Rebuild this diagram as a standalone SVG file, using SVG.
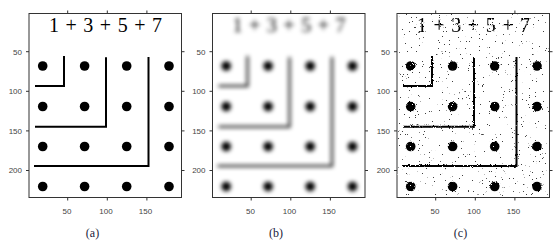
<svg xmlns="http://www.w3.org/2000/svg" xmlns:xlink="http://www.w3.org/1999/xlink" width="557" height="242" viewBox="0 0 557 242">
<style>
.frame{fill:none;stroke:#333;stroke-width:1}
.tick{stroke:#333;stroke-width:1}
.tl{font-size:8px;fill:#444}
.yl{text-anchor:end}
.xl{text-anchor:middle}
.cap{font-size:12px;fill:#1b1b3a;text-anchor:middle}
.title{font-size:20px;fill:#000}
.ln{fill:none;stroke:#000;stroke-width:2}
.dot{fill:#000}
</style>
<defs>
<filter id="blur" x="-20%" y="-20%" width="140%" height="140%">
<feGaussianBlur stdDeviation="2.3"/>
</filter>
<filter id="noisy" x="-5%" y="-5%" width="110%" height="110%">
<feTurbulence type="fractalNoise" baseFrequency="0.9" numOctaves="2" seed="7" result="t"/>
<feDisplacementMap in="SourceGraphic" in2="t" scale="2.5" xChannelSelector="R" yChannelSelector="G"/>
</filter>
<filter id="speckle" x="0" y="0" width="1" height="1">
<feTurbulence type="fractalNoise" baseFrequency="2.7" numOctaves="1" seed="2"/>
<feColorMatrix type="matrix" values="0 0 0 0 0  0 0 0 0 0  0 0 0 0 0  50 0 0 0 -35.3"/>
<feComponentTransfer><feFuncA type="linear" slope="0.75"/></feComponentTransfer>
</filter>
<filter id="salt" x="0" y="0" width="1" height="1">
<feTurbulence type="fractalNoise" baseFrequency="2.9" numOctaves="1" seed="9"/>
<feColorMatrix type="matrix" values="0 0 0 0 1  0 0 0 0 1  0 0 0 0 1  0 50 0 0 -36"/>
</filter>
<g id="axes">
<rect class="frame" x="29" y="13.5" width="152.5" height="184"/>
<path class="tick" d="M67.7,13.5V10.5M107.3,13.5V10.5M146.9,13.5V10.5M67.7,197.5V200.5M107.3,197.5V200.5M146.9,197.5V200.5M29,51.7H26M29,91.3H26M29,130.9H26M29,170.5H26M181.5,51.7H184.5M181.5,91.3H184.5M181.5,130.9H184.5M181.5,170.5H184.5"/>
<text class="tl yl" font-family="'Liberation Sans', Arial, sans-serif" x="22" y="54.5">50</text>
<text class="tl yl" font-family="'Liberation Sans', Arial, sans-serif" x="22" y="94.1">100</text>
<text class="tl yl" font-family="'Liberation Sans', Arial, sans-serif" x="22" y="133.7">150</text>
<text class="tl yl" font-family="'Liberation Sans', Arial, sans-serif" x="22" y="173.3">200</text>
<text class="tl xl" font-family="'Liberation Sans', Arial, sans-serif" x="67" y="214">50</text>
<text class="tl xl" font-family="'Liberation Sans', Arial, sans-serif" x="106" y="214">100</text>
<text class="tl xl" font-family="'Liberation Sans', Arial, sans-serif" x="145.5" y="214">150</text>
</g>
<g id="content">
<text class="title" font-family="'Liberation Serif', 'Times New Roman', serif" x="49" y="32" textLength="113" lengthAdjust="spacing">1 + 3 + 5 + 7</text>
<circle class="dot" cx="42.7" cy="66" r="4.8"/>
<circle class="dot" cx="84.6" cy="66" r="4.8"/>
<circle class="dot" cx="126.7" cy="66" r="4.8"/>
<circle class="dot" cx="169" cy="66" r="4.8"/>
<circle class="dot" cx="42.7" cy="106.5" r="4.8"/>
<circle class="dot" cx="84.6" cy="106.5" r="4.8"/>
<circle class="dot" cx="126.7" cy="106.5" r="4.8"/>
<circle class="dot" cx="169" cy="106.5" r="4.8"/>
<circle class="dot" cx="42.7" cy="146.5" r="4.8"/>
<circle class="dot" cx="84.6" cy="146.5" r="4.8"/>
<circle class="dot" cx="126.7" cy="146.5" r="4.8"/>
<circle class="dot" cx="169" cy="146.5" r="4.8"/>
<circle class="dot" cx="42.7" cy="186.5" r="4.8"/>
<circle class="dot" cx="84.6" cy="186.5" r="4.8"/>
<circle class="dot" cx="126.7" cy="186.5" r="4.8"/>
<circle class="dot" cx="169" cy="186.5" r="4.8"/>
<path class="ln" d="M35,86H64V56"/>
<path class="ln" d="M35,126.7H106V57.3"/>
<path class="ln" d="M34,166H148.5V57"/>
</g>
</defs>
<rect width="557" height="242" fill="#fff"/>
<g id="panel-a">
<use xlink:href="#axes" href="#axes"/>
<use xlink:href="#content" href="#content"/>
<text class="cap" font-family="'Liberation Serif', 'Times New Roman', serif" x="92.5" y="236.5">(a)</text>
</g>
<g id="panel-b" transform="translate(183.5,0)">
<use xlink:href="#axes" href="#axes"/>
<g filter="url(#blur)">
<use xlink:href="#content" href="#content"/>
</g>
<text class="cap" font-family="'Liberation Serif', 'Times New Roman', serif" x="92.5" y="236.5">(b)</text>
</g>
<g id="panel-c" transform="translate(368,0)">
<rect x="29.5" y="14" width="151.5" height="183" fill="#000" filter="url(#speckle)"/>
<use xlink:href="#axes" href="#axes"/>
<g filter="url(#noisy)">
<use xlink:href="#content" href="#content"/>
</g>
<rect x="29.5" y="14" width="151.5" height="183" fill="#fff" filter="url(#salt)"/>
<text class="cap" font-family="'Liberation Serif', 'Times New Roman', serif" x="92.5" y="236.5">(c)</text>
</g>
</svg>
